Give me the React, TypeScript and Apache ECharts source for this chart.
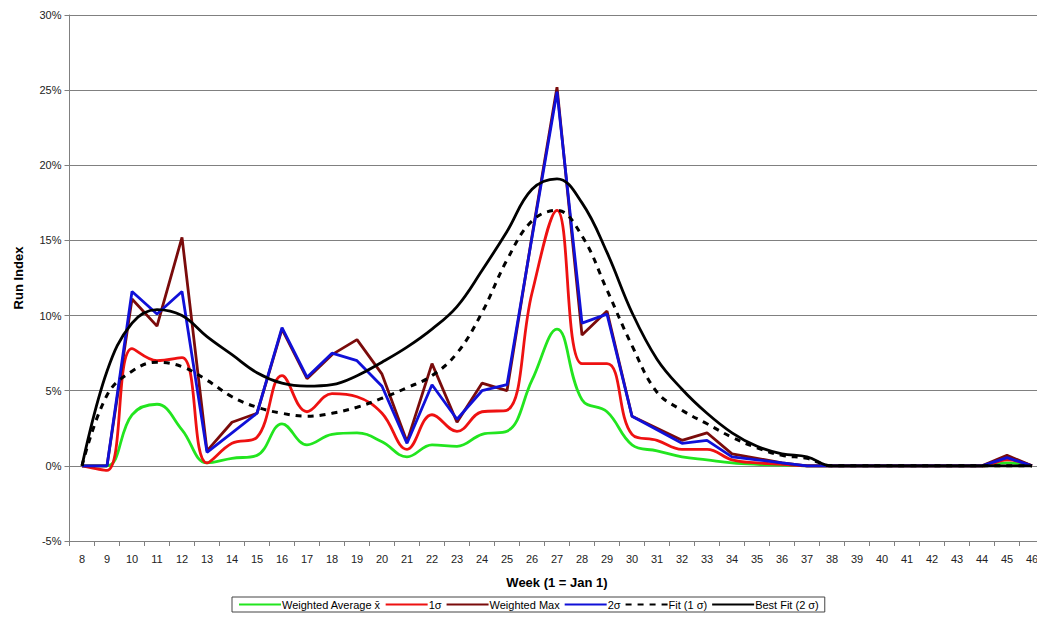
import React, { useEffect, useRef } from "react";
import * as echarts from "echarts";

const weeks = ["8","9","10","11","12","13","14","15","16","17","18","19","20","21","22","23","24","25","26","27","28","29","30","31","32","33","34","35","36","37","38","39","40","41","42","43","44","45","46"];

const weightedAvg = [0, 0, 3.4, 4.1, 2.4, 0.2, 0.5, 0.7, 2.8, 1.4, 2.1, 2.2, 1.6, 0.6, 1.4, 1.3, 2.1, 2.3, 5.7, 9.1, 4.4, 3.6, 1.4, 1.0, 0.6, 0.4, 0.2, 0.1, 0.05, 0, 0, 0, 0, 0, 0, 0, 0, 0.2, 0];
const sigma1 = [0, -0.3, 7.8, 7.0, 7.2, 0.2, 1.5, 1.9, 6.0, 3.6, 4.8, 4.6, 3.5, 1.1, 3.4, 2.3, 3.6, 3.7, 11.5, 17.0, 6.8, 6.8, 2.1, 1.7, 1.1, 1.1, 0.4, 0.2, 0.1, 0, 0, 0, 0, 0, 0, 0, 0, 0.4, 0];
const weightedMax = [0, 0, 11.1, 9.3, 15.2, 1.0, 2.9, 3.5, 9.1, 5.8, 7.4, 8.4, 6.1, 1.6, 6.8, 2.9, 5.5, 5.0, 15.3, 25.2, 8.7, 10.3, 3.3, 2.5, 1.7, 2.2, 0.8, 0.5, 0.2, 0, 0, 0, 0, 0, 0, 0, 0, 0.7, 0];
const sigma2 = [0, 0, 11.6, 10.1, 11.6, 0.9, 2.2, 3.5, 9.2, 5.9, 7.5, 7.0, 5.3, 1.5, 5.4, 3.1, 5.0, 5.4, 15.2, 24.9, 9.5, 10.1, 3.3, 2.4, 1.5, 1.7, 0.6, 0.4, 0.2, 0, 0, 0, 0, 0, 0, 0, 0, 0.55, 0];
const fit1 = [0, 4.7, 6.3, 6.9, 6.6, 5.7, 4.6, 3.9, 3.5, 3.3, 3.5, 3.9, 4.5, 5.2, 6.0, 7.5, 10.2, 13.7, 16.3, 17.0, 15.3, 11.7, 8.0, 4.9, 3.7, 2.8, 1.9, 1.2, 0.7, 0.5, 0, 0, 0, 0, 0, 0, 0, 0, 0];
const bestFit2 = [0, 6.3, 9.5, 10.4, 10.0, 8.6, 7.4, 6.2, 5.5, 5.3, 5.4, 6.0, 6.9, 7.9, 9.1, 10.6, 13.0, 15.6, 18.4, 19.1, 17.5, 14.2, 10.2, 7.1, 5.1, 3.5, 2.2, 1.3, 0.8, 0.6, 0, 0, 0, 0, 0, 0, 0, 0, 0];

const yTicks = { min: -5, max: 30, interval: 5 };

export default function App() {
  const ref = useRef<HTMLDivElement>(null);
  useEffect(() => {
    document.body.style.margin = "0";
    if (!ref.current) return;
    const chart = echarts.init(ref.current, null, { renderer: "svg" });
    const font = "Liberation Sans, Arial, sans-serif";
    const mk = (name: string, data: number[], color: string, smooth: boolean, type: any = "solid", width = 2.8) => ({
      name,
      type: "line",
      data,
      smooth: smooth ? 0.4 : false,
      symbol: "none",
      lineStyle: { color, width, type },
      itemStyle: { color },
      z: 2,
    });
    chart.setOption({
      animation: false,
      textStyle: { fontFamily: font },
      grid: { left: 69.5, width: 975, top: 15, bottom: 90, containLabel: false, outerBoundsMode: "none" },
      xAxis: {
        type: "category",
        data: weeks,
        boundaryGap: true,
        name: "Week (1 = Jan 1)",
        nameLocation: "middle",
        nameGap: 35,
        nameTextStyle: { fontSize: 13, fontWeight: "bold", color: "#000", fontFamily: font },
        axisLine: { onZero: false, lineStyle: { color: "#808080", width: 1 } },
        axisTick: { show: true, length: 5, lineStyle: { color: "#808080" }, interval: 0 },
        axisLabel: { interval: 0, fontSize: 11, color: "#222", margin: 12, fontFamily: font },
        splitLine: { show: false },
      },
      yAxis: {
        type: "value",
        min: yTicks.min,
        max: yTicks.max,
        interval: yTicks.interval,
        name: "Run Index",
        nameLocation: "middle",
        nameGap: 45,
        nameTextStyle: { fontSize: 13, fontWeight: "bold", color: "#000", fontFamily: font },
        axisLine: { show: true, lineStyle: { color: "#808080", width: 1 } },
        axisTick: { show: true, length: 5, lineStyle: { color: "#808080" } },
        axisLabel: { formatter: "{value}%", fontSize: 11, color: "#222", margin: 8, fontFamily: font },
        splitLine: { show: true, lineStyle: { color: "#808080", width: 1 } },
      },
      legend: {
        left: 232,
        top: 597,
        orient: "horizontal",
        itemWidth: 42,
        itemHeight: 10,
        itemGap: 4,
        padding: [2, 6],
        borderColor: "#444",
        borderWidth: 1,
        itemStyle: { opacity: 0 },
        textStyle: { fontSize: 11, color: "#000", fontFamily: font, padding: [0, 0, 0, -4] },
        data: ["Weighted Average x\u0304", "1\u03c3", "Weighted Max", "2\u03c3", "Fit (1 \u03c3)", "Best Fit (2 \u03c3)"],
      },
      series: [
        mk("Weighted Average x\u0304", weightedAvg, "#22e51f", true),
        mk("1\u03c3", sigma1, "#ee1111", true),
        mk("Weighted Max", weightedMax, "#7a0b0b", false),
        mk("2\u03c3", sigma2, "#1010d8", false),
        mk("Fit (1 \u03c3)", fit1, "#000000", true, [6, 6], 3),
        mk("Best Fit (2 \u03c3)", bestFit2, "#000000", true, "solid", 2.8),
      ],
    });
    return () => chart.dispose();
  }, []);
  return <div ref={ref} style={{ width: 1037, height: 631 }} />;
}
